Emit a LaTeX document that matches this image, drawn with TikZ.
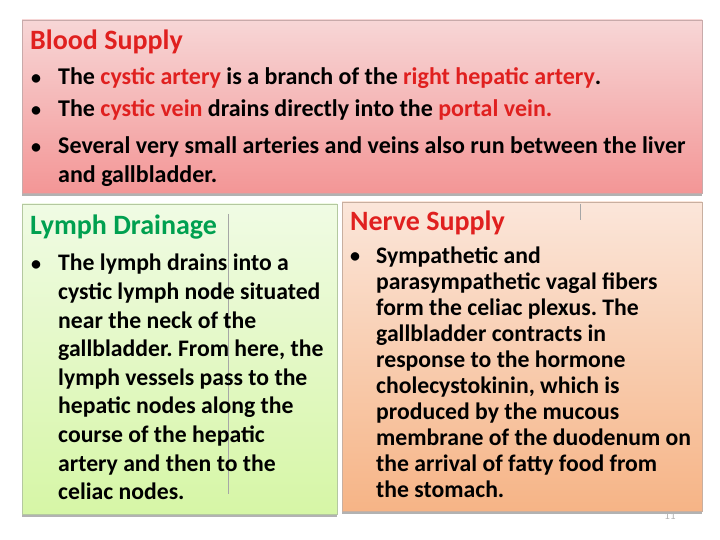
\documentclass[tikz,border=0pt]{standalone}
\usepackage{fontspec}
\setmainfont{Carlito}
\frenchspacing
\begin{document}
\begin{tikzpicture}[x=1pt,y=-1pt,
  body/.style={anchor=north west,inner sep=0pt,align=left,font=\bfseries\fontsize{23.7}{28.6}\selectfont},
  nbody/.style={anchor=north west,inner sep=0pt,align=left,font=\bfseries\fontsize{23.7}{26}\selectfont},
  tbody/.style={anchor=base west,inner sep=0pt,font=\bfseries\fontsize{24}{29}\selectfont},
  title/.style={anchor=base west,inner sep=0pt,font=\bfseries\fontsize{28}{30}\selectfont},
  bul/.style={anchor=base west,inner sep=0pt,font=\bfseries\fontsize{20}{26}\selectfont}]
\definecolor{redt}{HTML}{E0201F}
\definecolor{greent}{HTML}{00A050}
\useasboundingbox (0,0) rectangle (720,540);
\fill[white] (0,0) rectangle (720,540);
% shadows
\fill[gray!60] (22,192) rectangle (702,196);
\fill[gray!60] (22,513) rectangle (337,517);
\fill[gray!60] (342,510) rectangle (702,514);
% panels
\shade[top color={rgb,255:red,247;green,214;blue,214},bottom color={rgb,255:red,243;green,150;blue,150},draw={rgb,255:red,200;green,170;blue,170}] (22,20) rectangle (702,193);
\shade[top color={rgb,255:red,240;green,251;blue,228},bottom color={rgb,255:red,214;green,246;blue,166},draw={rgb,255:red,180;green,200;blue,160}] (22,204) rectangle (337,514);
\shade[top color={rgb,255:red,251;green,230;blue,218},bottom color={rgb,255:red,246;green,180;blue,134},draw={rgb,255:red,200;green,175;blue,160}] (342,202) rectangle (702,511);
\draw[gray!70] (228,214) -- (228,494);
\draw[gray!70] (580,204) -- (580,220);
% top
\node[title,text=redt] (t1) at (30,50) {Blood Supply};
\node[bul] (b1) at (31,85) {\textbullet};
\node[tbody] (l1) at (58,85) {The \textcolor{redt}{cystic artery} is a branch of the \textcolor{redt}{right hepatic artery}.};
\node[bul] (b2) at (31,117) {\textbullet};
\node[tbody] (l2) at (58,117) {The \textcolor{redt}{cystic vein} drains directly into the \textcolor{redt}{portal vein.}};
\node[bul] (b3) at (31,154) {\textbullet};
\node[tbody] (l3) at (58,154) {Several very small arteries and veins also run between the liver};
\node[tbody] (l4) at (58,183) {and gallbladder.};
% lymph
\node[title,text=greent] (t2) at (30,234) {Lymph Drainage};
\node[bul] (b4) at (31,270) {\textbullet};
\node[body] (p2) at (58,254) {The lymph drains into a\\cystic lymph node situated\\near the neck of the\\gallbladder. From here, the\\lymph vessels pass to the\\hepatic nodes along the\\course of the hepatic\\artery and then to the\\celiac nodes.};
% nerve
\node[title,text=redt] (t3) at (350,230) {Nerve Supply};
\node[bul] (b5) at (350,262) {\textbullet};
\node[nbody] (p3) at (376,247) {Sympathetic and\\parasympathetic vagal fibers\\form the celiac plexus. The\\gallbladder contracts in\\response to the hormone\\cholecystokinin, which is\\produced by the mucous\\membrane of the duodenum on\\the arrival of fatty food from\\the stomach.};
\node[anchor=base,inner sep=0pt,text=gray!60,font=\fontsize{11}{12}\selectfont] (pg) at (670,519) {11};
\end{tikzpicture}
\end{document}
